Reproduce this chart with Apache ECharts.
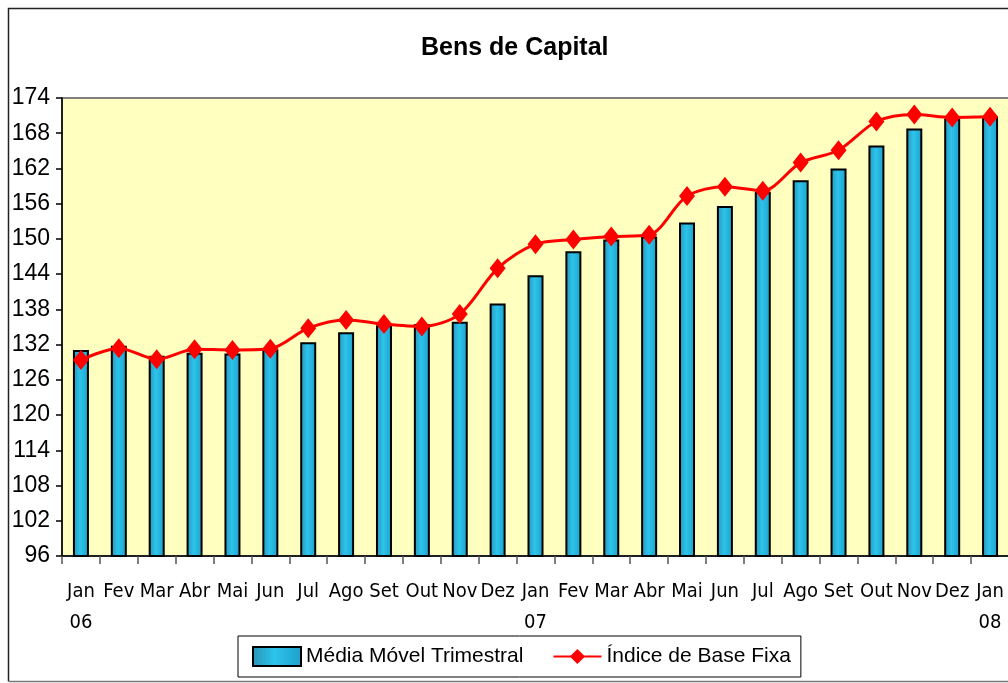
<!DOCTYPE html>
<html>
<head>
<meta charset="utf-8">
<script src="https://cdn.jsdelivr.net/npm/echarts@6/dist/echarts.min.js"></script>
<style>
html,body{margin:0;padding:0;background:#fff;}
#c{width:1008px;height:683px;}
</style>
</head>
<body>
<div id="c"></div>
<script>
const months = ['Jan','Fev','Mar','Abr','Mai','Jun','Jul','Ago','Set','Out','Nov','Dez','Jan','Fev','Mar','Abr','Mai','Jun','Jul','Ago','Set','Out','Nov','Dez','Jan'];
const years = ['06','','','','','','','','','','','','07','','','','','','','','','','','','08'];
const mediaMovel = [131.1,131.8,130.1,130.6,130.5,131.2,132.4,134.1,135.3,135.5,135.9,139.0,143.8,147.9,149.9,150.4,152.8,155.6,158.0,160.0,162.0,165.9,168.8,170.5,170.9];
const indiceBase = [129.4,131.4,129.5,131.2,131.1,131.3,134.8,136.2,135.5,135.1,137.2,145.0,149.1,149.9,150.4,150.7,157.3,158.9,158.2,163.0,165.1,170.0,171.2,170.7,170.8];
const yTicks = {min:96, max:174, interval:6};
const titleText = 'Bens de Capital';
const seriesNames = ['Média Móvel Trimestral','Índice de Base Fixa'];

const categories = months.map((m,i) => years[i] ? m + '\n' + years[i] : m);

const barFill = new echarts.graphic.LinearGradient(0,0,1,0,[
  {offset:0,color:'#2a93b5'},
  {offset:0.45,color:'#2cc4ec'},
  {offset:1,color:'#1f9fc8'}
]);

const chart = echarts.init(document.getElementById('c'), null, {renderer:'canvas'});
chart.setOption({
  animation:false,
  backgroundColor:'#ffffff',
  title:{
    text:titleText,
    left:421,
    top:36,
    padding:0,
    textStyle:{fontFamily:'Liberation Sans, Arial, sans-serif',fontWeight:'bold',fontSize:25,color:'#000'}
  },
  graphic:[
    {type:'polyline',shape:{points:[[1010,8.5],[8.5,8.5],[8.5,681.5]]},style:{stroke:'#222',lineWidth:1.5,fill:null},z:-1},
    {type:'polyline',shape:{points:[[8.5,681.5],[1010,681.5]]},style:{stroke:'#777',lineWidth:1.5,fill:null},z:-1}
  ],
  grid:{
    left:62, top:98, right:-1, bottom:127,
    show:true, backgroundColor:'#FFFFC0', borderColor:'#808080', borderWidth:2,
    outerBoundsMode:'none'
  },
  legend:{
    left:238, top:636,
    padding:[10,10,10,14],
    itemGap:29,
    itemWidth:48, itemHeight:19,
    borderColor:'#000', borderWidth:1,
    backgroundColor:'#fff',
    textStyle:{fontFamily:'Liberation Sans, Arial, sans-serif',fontSize:21,color:'#000'},
    data:[{name:seriesNames[0],icon:'rect'},{name:seriesNames[1]}]
  },
  xAxis:{
    type:'category',
    data:categories,
    boundaryGap:true,
    axisLine:{show:true,lineStyle:{color:'#000',width:1.5}},
    axisTick:{show:true,length:8,lineStyle:{color:'#555',width:1.5},alignWithLabel:false},
    axisLabel:{
      interval:0, margin:20,
      fontFamily:'Liberation Sans Narrow, DejaVu Sans Condensed, Arial, sans-serif',
      fontSize:20, lineHeight:31, color:'#000'
    },
    splitLine:{show:false}
  },
  yAxis:{
    type:'value',
    min:yTicks.min, max:yTicks.max, interval:yTicks.interval,
    axisLine:{show:true,lineStyle:{color:'#000',width:1.5}},
    axisTick:{show:true,length:6,lineStyle:{color:'#000',width:1.5}},
    axisLabel:{margin:12,fontFamily:'Liberation Sans, Arial, sans-serif',fontSize:23,color:'#000'},
    splitLine:{show:false}
  },
  series:[
    {
      name:seriesNames[0],
      type:'bar',
      data:mediaMovel,
      barWidth:16,
      itemStyle:{color:barFill,borderColor:'#000',borderWidth:2},
      z:2
    },
    {
      name:seriesNames[1],
      type:'line',
      data:indiceBase,
      smooth:0.3,
      symbol:'diamond',
      symbolSize:[16,20],
      lineStyle:{color:'#ff0000',width:3},
      itemStyle:{color:'#ff0000'},
      z:3
    }
  ]
});
</script>
</body>
</html>
